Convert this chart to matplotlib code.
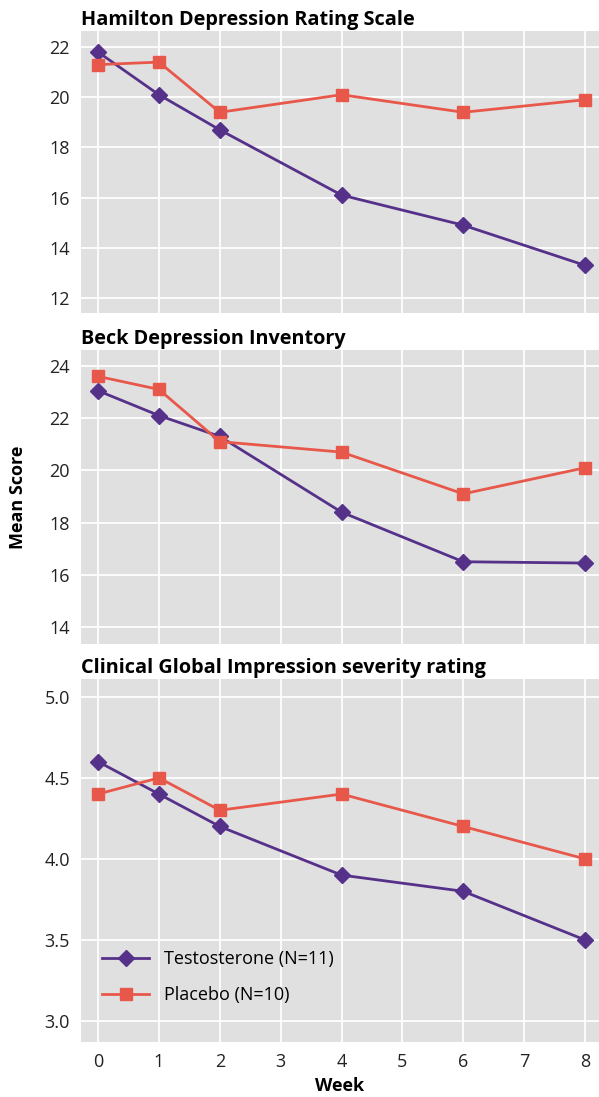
import numpy as np
import matplotlib
matplotlib.use('Agg')
import matplotlib.pyplot as plt
from matplotlib import rcParams

rcParams['font.family'] = 'Open Sans'
rcParams['font.size'] = 13

weeks = [0, 1, 2, 4, 6, 8]
titles = ['Hamilton Depression Rating Scale',
          'Beck Depression Inventory',
          'Clinical Global Impression severity rating']
testo = [[21.8, 20.1, 18.7, 16.1, 14.9, 13.3],
         [23.05, 22.1, 21.3, 18.4, 16.5, 16.45],
         [4.6, 4.4, 4.2, 3.9, 3.8, 3.5]]
placebo = [[21.3, 21.4, 19.4, 20.1, 19.4, 19.9],
           [23.6, 23.1, 21.1, 20.7, 19.1, 20.1],
           [4.4, 4.5, 4.3, 4.4, 4.2, 4.0]]
yticks = [[12, 14, 16, 18, 20, 22],
          [14, 16, 18, 20, 22, 24],
          [3.0, 3.5, 4.0, 4.5, 5.0]]
ylims = [(11.4, 22.64), (13.35, 24.61), (2.87, 5.11)]

purple = '#55318A'
orange = '#E8584A'

W, H = 599, 1097
fig = plt.figure(figsize=(W/100, H/100), dpi=100)
# axes boxes in pixels: (top, bottom)
boxes = [(31, 313), (350, 644), (679, 1042)]
left, right = 81, 599

for i, (top, bot) in enumerate(boxes):
    ax = fig.add_axes([left/W, 1 - bot/H, (right-left)/W, (bot-top)/H])
    ax.set_facecolor('#E0E0E0')
    ax.grid(True, color='white', linewidth=1.3)
    ax.set_axisbelow(True)
    for s in ax.spines.values():
        s.set_visible(False)
    ax.plot(weeks, testo[i], color=purple, marker='D', markersize=8,
            linewidth=2, label='Testosterone (N=11)', zorder=3)
    ax.plot(weeks, placebo[i], color=orange, marker='s', markersize=8,
            linewidth=2, label='Placebo (N=10)', zorder=3)
    ax.set_xlim(-0.28, 8.23)
    ax.set_ylim(*ylims[i])
    ax.set_xticks(range(9))
    ax.set_yticks(yticks[i])
    if i == 2:
        ax.set_yticklabels(['%.1f' % v for v in yticks[i]])
        ax.set_xlabel('Week', fontweight='bold', fontsize=13, labelpad=4)
        ax.legend(loc='lower left', frameon=False, fontsize=13,
                  bbox_to_anchor=(0.01, 0.06), handlelength=2.6,
                  labelspacing=1.0)
    else:
        ax.tick_params(axis='x', labelbottom=False)
    if i == 1:
        ax.set_ylabel('Mean Score', fontweight='bold', fontsize=13, labelpad=16)
    ax.tick_params(length=0, pad=8, labelsize=13, colors='#222222')
    ax.set_title(titles[i], loc='left', fontweight='bold', fontsize=14.3, pad=4)

fig.savefig('out.png', dpi=100)
